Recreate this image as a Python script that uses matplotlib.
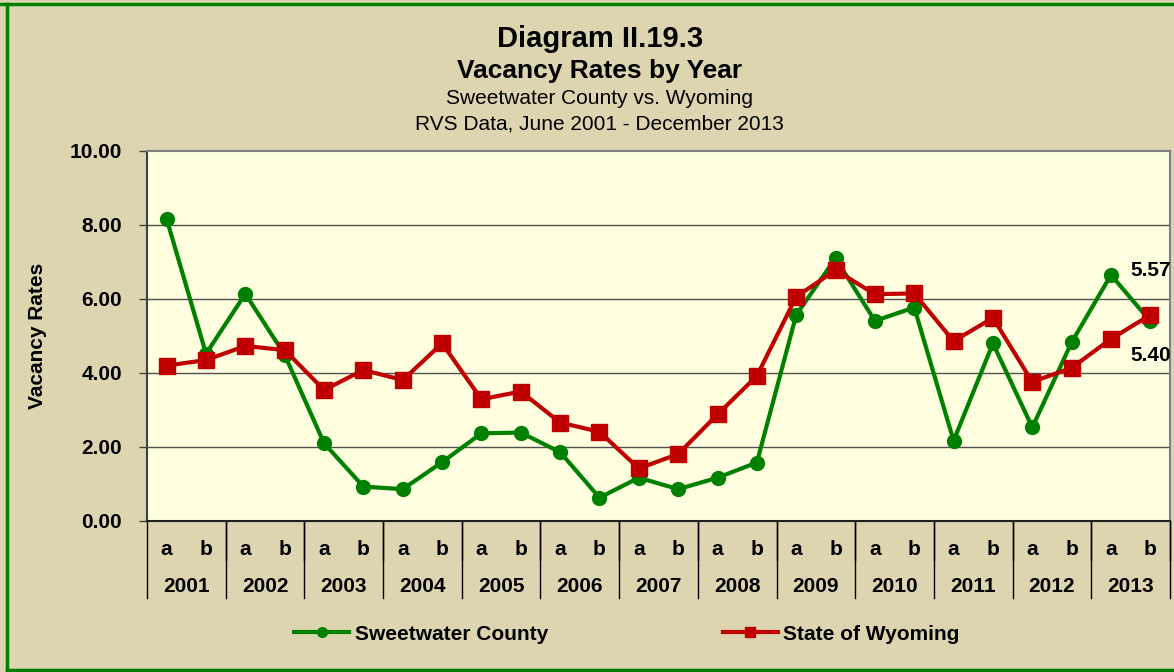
import numpy as np
import matplotlib.pyplot as plt
from matplotlib.lines import Line2D
from matplotlib.transforms import blended_transform_factory

plt.rcParams['font.family'] = ['Liberation Sans', 'DejaVu Sans']

# data
years = ['2001', '2002', '2003', '2004', '2005', '2006', '2007',
         '2008', '2009', '2010', '2011', '2012', '2013']
halves = ['a', 'b']
sweetwater = [8.16, 4.52, 6.14, 4.49, 2.10, 0.93, 0.86, 1.59, 2.37, 2.39, 1.86, 0.63, 1.17,
              0.86, 1.17, 1.58, 5.57, 7.10, 5.41, 5.77, 2.17, 4.80, 2.53, 4.83, 6.65, 5.40]
wyoming = [4.20, 4.35, 4.73, 4.62, 3.54, 4.08, 3.81, 4.80, 3.29, 3.50, 2.66, 2.41, 1.42,
           1.81, 2.88, 3.92, 6.06, 6.78, 6.13, 6.15, 4.86, 5.49, 3.76, 4.14, 4.92, 5.57]
yticks = [0, 2, 4, 6, 8, 10]

bg = '#DDD5B0'
green = '#008000'
red = '#C00000'

W, H = 1174, 672
fig = plt.figure(figsize=(W / 100, H / 100), dpi=100, facecolor=bg)
ax = fig.add_axes([147 / W, 1 - 521 / H, (1170 - 147) / W, 370 / H])
ax.set_facecolor('#FFFFE0')

x = np.arange(len(sweetwater))
l1, = ax.plot(x, sweetwater, color=green, lw=3, marker='o', ms=10, label='Sweetwater County', zorder=3)
l2, = ax.plot(x, wyoming, color=red, lw=3, marker='s', ms=11, label='State of Wyoming', zorder=4)

ax.set_xlim(-0.5, len(x) - 0.5)
ax.set_ylim(0, 10)
ax.set_yticks(yticks)
ax.set_yticklabels([f'{v:.2f}' for v in yticks], fontsize=15, fontweight='bold')
ax.tick_params(axis='y', length=6, width=1, color='#404040', pad=12)
ax.set_xticks([])
for v in yticks[1:-1]:
    ax.axhline(v, color='#505050', lw=1, zorder=1)
for side in ['top', 'right']:
    ax.spines[side].set_color('#808080')
ax.spines['left'].set_color('#404040')
ax.spines['bottom'].set_color('#202020')
for s in ax.spines.values():
    s.set_linewidth(1.5)

ax.set_ylabel('Vacancy Rates', fontsize=15, fontweight='bold', labelpad=16)

# two level category axis
tr = blended_transform_factory(ax.transData, ax.transAxes)
for i in range(len(x)):
    ax.text(i, -0.076, halves[i % 2], transform=tr, ha='center', va='center',
            fontsize=15, fontweight='bold')
    if i % 2 == 1:
        ax.plot([i + 0.5, i + 0.5], [0, -0.105], transform=tr, color='black', lw=1, clip_on=False)
for j, yr in enumerate(years):
    ax.text(2 * j + 0.5, -0.176, yr, transform=tr, ha='center', va='center',
            fontsize=15, fontweight='bold')
    ax.plot([2 * j - 0.5, 2 * j - 0.5], [0, -0.208], transform=tr, color='black', lw=1, clip_on=False)
ax.plot([len(x) - 0.5] * 2, [0, -0.208], transform=tr, color='black', lw=1, clip_on=False)

# end labels
ax.annotate(f'{wyoming[-1]:.2f}', (x[-1], wyoming[-1]), xytext=(0, 32), textcoords='offset points',
            ha='center', va='center', fontsize=15, fontweight='bold')
ax.annotate(f'{sweetwater[-1]:.2f}', (x[-1], sweetwater[-1]), xytext=(0, -25), textcoords='offset points',
            ha='center', va='center', fontsize=15, fontweight='bold')

# titles
fig.text(0.511, 1 - 47 / H, 'Diagram II.19.3', ha='center', va='baseline', fontsize=21, fontweight='bold')
fig.text(0.511, 1 - 78 / H, 'Vacancy Rates by Year', ha='center', va='baseline', fontsize=19, fontweight='bold')
fig.text(0.511, 1 - 104 / H, 'Sweetwater County vs. Wyoming', ha='center', va='baseline', fontsize=15)
fig.text(0.511, 1 - 130 / H, 'RVS Data, June 2001 - December 2013', ha='center', va='baseline', fontsize=15)

fig.legend(handles=[l1, l2], loc='center', bbox_to_anchor=(0.534, 1 - 634 / H), ncol=2,
           frameon=False, prop={'size': 15, 'weight': 'bold'}, handlelength=2.65,
           handletextpad=0.25, columnspacing=8.4, markerscale=0.7)

# green frame
fig.add_artist(Line2D([0, 1], [1 - 4 / H] * 2, color=green, lw=2.5))
fig.add_artist(Line2D([7 / W] * 2, [1 - 4 / H, 2 / H], color=green, lw=2.5))
fig.add_artist(Line2D([7 / W, 1], [2 / H] * 2, color=green, lw=2.5))

fig.savefig('out.png', dpi=100, facecolor=bg)
